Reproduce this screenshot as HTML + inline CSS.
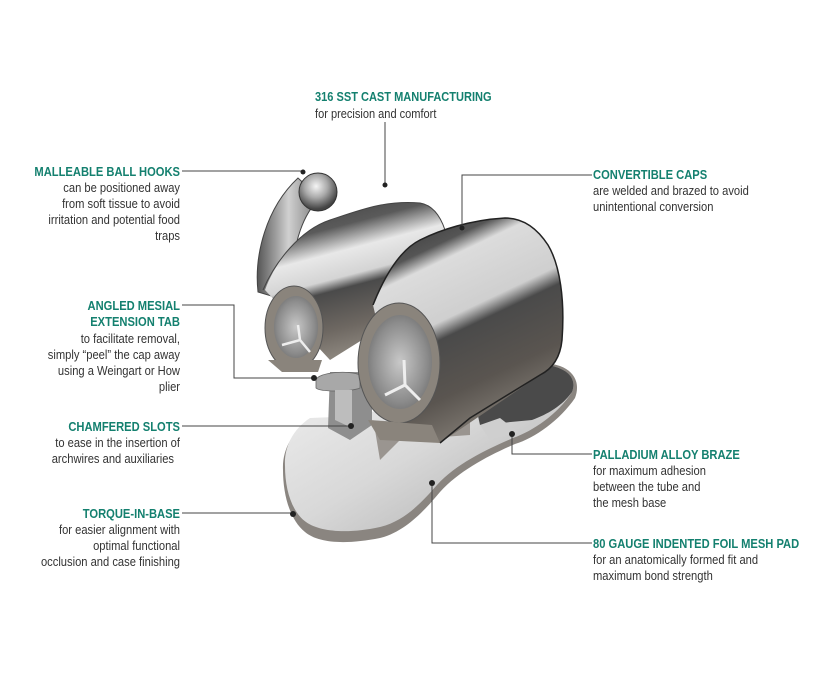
<!DOCTYPE html>
<html><head><meta charset="utf-8"><style>
html,body{margin:0;padding:0;background:#fff}
svg{display:block}
.h{font-family:"Liberation Sans",sans-serif;font-weight:bold;font-size:13px;fill:#14806f}
.b{font-family:"Liberation Sans",sans-serif;font-size:13px;fill:#333}
.l{stroke:#444;stroke-width:1;fill:none}
</style></head><body>
<svg width="813" height="687" viewBox="0 0 813 687" xmlns="http://www.w3.org/2000/svg">
<defs>
<linearGradient id="pad" x1="0" y1="0" x2="1" y2="1">
<stop offset="0" stop-color="#f2f2f2"/><stop offset="0.5" stop-color="#d8d8d8"/><stop offset="1" stop-color="#a8a8a8"/></linearGradient>
<linearGradient id="tube" x1="0" y1="0" x2="0.3" y2="1">
<stop offset="0" stop-color="#3c3c3c"/><stop offset="0.25" stop-color="#5a5a5a"/><stop offset="0.4" stop-color="#e8e8e8"/><stop offset="0.55" stop-color="#d4d4d4"/><stop offset="0.62" stop-color="#4a4a4a"/><stop offset="0.85" stop-color="#6e6862"/><stop offset="1" stop-color="#8a847c"/></linearGradient>
<linearGradient id="tube2" x1="0.2" y1="0" x2="0.6" y2="1">
<stop offset="0" stop-color="#3a3a3a"/><stop offset="0.15" stop-color="#555"/><stop offset="0.22" stop-color="#dcdcdc"/><stop offset="0.45" stop-color="#cfcfcf"/><stop offset="0.52" stop-color="#4a4a4a"/><stop offset="0.75" stop-color="#5a5550"/><stop offset="1" stop-color="#8a847c"/></linearGradient>
<linearGradient id="hook" x1="0" y1="0" x2="1" y2="0">
<stop offset="0" stop-color="#555"/><stop offset="0.5" stop-color="#d0d0d0"/><stop offset="1" stop-color="#777"/></linearGradient>
<radialGradient id="ball" cx="0.45" cy="0.35" r="0.6">
<stop offset="0" stop-color="#f5f5f5"/><stop offset="0.5" stop-color="#aaa"/><stop offset="1" stop-color="#444"/></radialGradient>
<radialGradient id="inner" cx="0.5" cy="0.5" r="0.6">
<stop offset="0" stop-color="#c8c8c8"/><stop offset="0.7" stop-color="#8c8c8c"/><stop offset="1" stop-color="#6c6c6c"/></radialGradient>
</defs>

<!-- base pad -->
<path d="M310,420 C292,432 282,450 283,470 C283,495 290,520 305,532 C318,543 345,545 380,538 C405,532 425,510 440,492 C460,470 490,455 515,444 C535,438 560,420 575,398 C580,385 576,372 560,366 L525,356 L470,380 L360,420 Z" fill="#8a8580"/>
<path d="M310,418 C292,430 284,448 285,466 C285,490 292,512 306,522 C320,532 348,534 380,527 C405,521 422,502 437,485 C457,463 488,449 513,438 C533,431 558,414 572,392 C576,382 572,372 556,367 L525,357 L470,378 L360,416 Z" fill="url(#pad)"/>
<path d="M525,357 L556,367 C572,372 576,382 572,392 C562,406 548,414 532,420 L480,425 L470,380 Z" fill="#4a4a4a"/>
<path d="M480,425 L500,418 L518,432 L490,440 Z" fill="#cfcfcf"/>
<!-- central column -->
<path d="M330,372 L372,372 L372,425 L350,440 L328,428 Z" fill="#8e8e8e"/>
<path d="M316,380 C318,372 350,370 360,375 L360,388 C350,392 320,392 316,388 Z" fill="#a8a8a8" stroke="#666" stroke-width="0.8"/>
<path d="M335,390 L352,390 L352,428 L335,420 Z" fill="#bdbdbd"/>
<path d="M370,420 L440,425 L470,420 L470,435 L400,440 L380,460 L375,430 Z" fill="#9a9590"/>
<!-- hook -->
<path d="M258,292 C254,255 266,208 298,178 L320,198 C302,215 294,245 294,265 L285,300 Z" fill="url(#hook)" stroke="#444" stroke-width="1"/>
<circle cx="318" cy="192" r="19" fill="url(#ball)" stroke="#333" stroke-width="1"/>
<!-- left tube -->
<path d="M265,290 C275,262 300,230 330,220 C360,210 385,200 420,203 C432,205 440,215 445,230 L410,310 L330,360 Z" fill="url(#tube)"/>
<path d="M263,290 C275,262 300,230 330,220 C360,210 385,200 420,203 C432,205 440,215 445,230" class="l" stroke="#222" stroke-width="1.5"/>
<ellipse cx="294" cy="328" rx="29" ry="42" fill="#8a847c" stroke="#555" stroke-width="1"/>
<ellipse cx="296" cy="327" rx="22" ry="31" fill="url(#inner)"/>
<path d="M282,345 L300,340 L310,352 M300,340 L298,325" stroke="#eee" stroke-width="2.5" fill="none"/>
<path d="M268,360 L282,372 L318,372 L322,360 Z" fill="#8a847c"/>
<!-- right tube -->
<path d="M373,305 C385,275 400,250 420,240 C440,230 470,220 505,218 C520,218 535,225 548,245 C560,265 565,300 562,340 C560,360 550,370 540,375 L440,443 L400,420 Z" fill="url(#tube2)"/>
<path d="M373,305 C385,275 400,250 420,240 C440,230 470,220 505,218 C520,218 535,225 548,245 C560,265 565,300 562,340 C560,360 550,370 540,375 L470,418 L440,443" fill="none" stroke="#222" stroke-width="1.5"/>
<ellipse cx="399" cy="363" rx="41" ry="60" fill="#8a847c" stroke="#555" stroke-width="1"/>
<ellipse cx="400" cy="362" rx="32" ry="47" fill="url(#inner)"/>
<path d="M385,395 L405,385 L420,400 M405,385 L404,360" stroke="#eee" stroke-width="3" fill="none"/>
<path d="M368,420 L380,440 L440,443 L432,425 Z" fill="#8a847c"/>

<!-- leader lines -->
<path class="l" d="M385,122 V183"/>
<path class="l" d="M182,171 H303"/>
<path class="l" d="M592,175 H462 V228"/>
<path class="l" d="M182,305 H234 V378 H313"/>
<path class="l" d="M182,426 H350"/>
<path class="l" d="M182,513 H293"/>
<path class="l" d="M592,454 H512 V434"/>
<path class="l" d="M592,543 H432 V483"/>
<g fill="#222">
<circle cx="385" cy="185" r="2.5"/><circle cx="303" cy="172" r="2.5"/><circle cx="462" cy="228" r="2.5"/>
<circle cx="314" cy="378" r="3"/><circle cx="351" cy="426" r="3"/><circle cx="293" cy="514" r="3"/>
<circle cx="512" cy="434" r="3"/><circle cx="432" cy="483" r="3"/></g>

<!-- labels -->
<g transform="translate(315,0) scale(0.85,1)">
<text class="h" x="0" y="101">316 SST CAST MANUFACTURING</text>
<text class="b" x="0" y="118">for precision and comfort</text>
</g>

<g transform="translate(180,0) scale(0.86,1)" text-anchor="end">
<text class="h" x="0" y="176">MALLEABLE BALL HOOKS</text>
<text class="b" x="0" y="192">can be positioned away</text>
<text class="b" x="0" y="208">from soft tissue to avoid</text>
<text class="b" x="0" y="224">irritation and potential food</text>
<text class="b" x="0" y="240">traps</text>

<text class="h" x="0" y="310">ANGLED MESIAL</text>
<text class="h" x="0" y="326">EXTENSION TAB</text>
<text class="b" x="0" y="343">to facilitate removal,</text>
<text class="b" x="0" y="359">simply “peel” the cap away</text>
<text class="b" x="0" y="375">using a Weingart or How</text>
<text class="b" x="0" y="391">plier</text>

<text class="h" x="0" y="431">CHAMFERED SLOTS</text>
<text class="b" x="0" y="447">to ease in the insertion of</text>
<text class="b" x="-7" y="463">archwires and auxiliaries</text>

<text class="h" x="0" y="518">TORQUE-IN-BASE</text>
<text class="b" x="0" y="534">for easier alignment with</text>
<text class="b" x="0" y="550">optimal functional</text>
<text class="b" x="0" y="566">occlusion and case finishing</text>
</g>

<g transform="translate(593,0) scale(0.86,1)">
<text class="h" x="0" y="179">CONVERTIBLE CAPS</text>
<text class="b" x="0" y="195">are welded and brazed to avoid</text>
<text class="b" x="0" y="211">unintentional conversion</text>

<text class="h" x="0" y="459">PALLADIUM ALLOY BRAZE</text>
<text class="b" x="0" y="475">for maximum adhesion</text>
<text class="b" x="0" y="491">between the tube and</text>
<text class="b" x="0" y="507">the mesh base</text>

<text class="h" x="0" y="548">80 GAUGE INDENTED FOIL MESH PAD</text>
<text class="b" x="0" y="564">for an anatomically formed fit and</text>
<text class="b" x="0" y="580">maximum bond strength</text>
</g>
</svg>
</body></html>
